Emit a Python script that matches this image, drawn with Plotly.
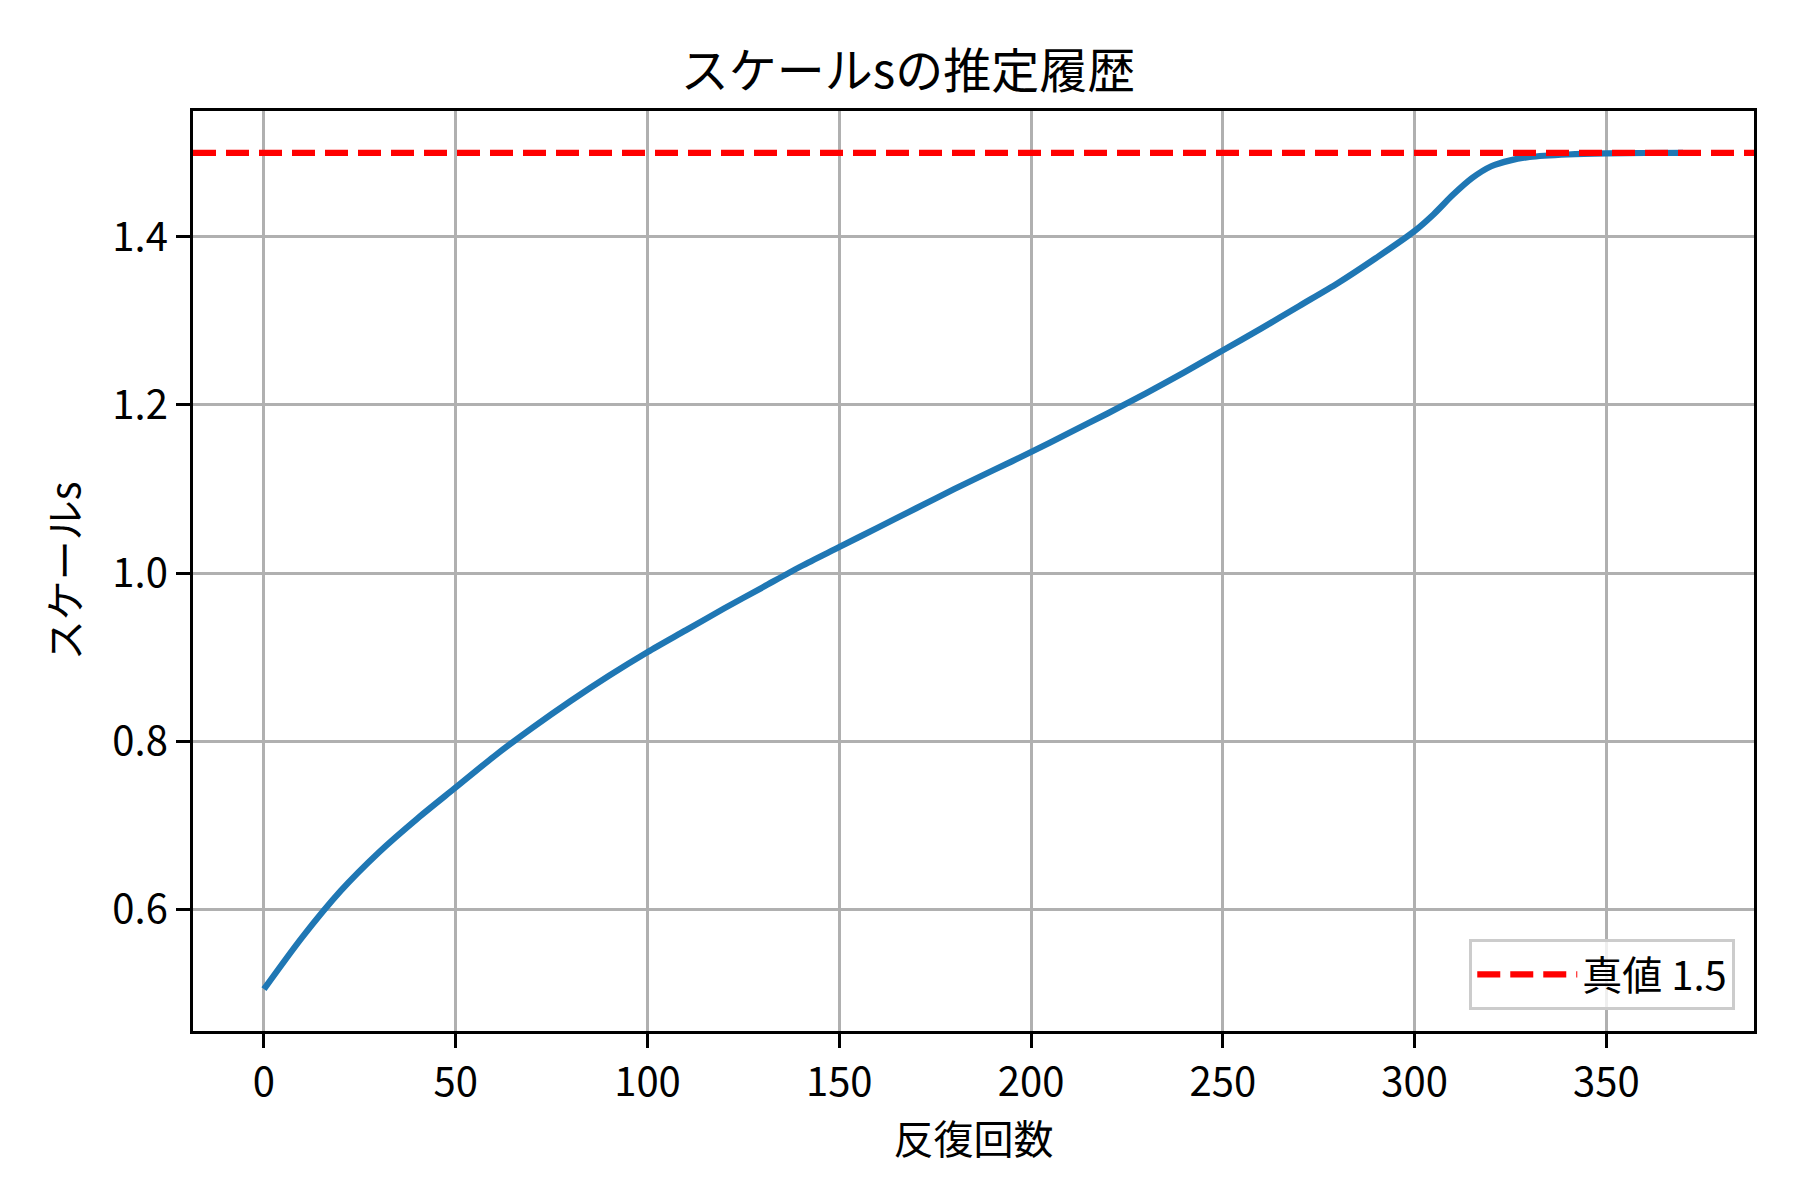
import plotly.graph_objects as go

# iteration index and estimated scale s
iters = [0, 10, 20, 30, 40, 50, 60, 70, 80, 90, 100, 110, 120, 130, 140, 150, 160, 170,
         180, 190, 200, 210, 220, 230, 240, 250, 260, 270, 280, 290, 300, 305, 310, 315,
         320, 325, 330, 340, 350, 360, 370]
s_vals = [0.505, 0.567, 0.622, 0.668, 0.708, 0.745, 0.782, 0.816, 0.848, 0.878, 0.906,
          0.932, 0.958, 0.983, 1.008, 1.031, 1.054, 1.077, 1.100, 1.122, 1.144, 1.167,
          1.190, 1.214, 1.239, 1.265, 1.291, 1.318, 1.345, 1.375, 1.407, 1.427, 1.450,
          1.470, 1.484, 1.491, 1.495, 1.498, 1.4993, 1.4998, 1.5]
true_value = 1.5
true_label = "真値 1.5"

x_ticks = [0, 50, 100, 150, 200, 250, 300, 350]
y_ticks = [0.6, 0.8, 1.0, 1.2, 1.4]
y_ticktext = ["0.6", "0.8", "1.0", "1.2", "1.4"]

title_text = "スケールsの推定履歴"
x_title = "反復回数"
y_title = "スケールs"

FONT = "Noto Sans CJK JP"

fig = go.Figure()
fig.add_trace(go.Scatter(
    x=iters, y=s_vals, mode="lines",
    line=dict(color="#1f77b4", width=6.2, shape="spline", smoothing=0.8),
    showlegend=False,
))

fig.add_shape(
    type="line", xref="paper", x0=0, x1=1, yref="y", y0=true_value, y1=true_value,
    line=dict(color="red", width=6.2, dash="23px,10px"),
    showlegend=True, name=true_label, layer="above",
)

n_last = iters[-1]
pad = 0.05 * n_last
y_min, y_max = min(s_vals), max(max(s_vals), true_value)
ypad = 0.05 * (y_max - y_min)

fig.update_layout(
    width=1800, height=1200,
    margin=dict(l=185, r=54, t=103, b=177),
    paper_bgcolor="white", plot_bgcolor="white",
    font=dict(family=FONT, size=40, color="black"),
    title=dict(text=title_text, x=0.5, xanchor="center", y=1 - 63 / 1200, yanchor="middle",
               font=dict(family=FONT, size=48, color="black")),
    showlegend=True,
    legend=dict(
        x=0.988, xanchor="right", y=0.023, yanchor="bottom",
        bgcolor="rgba(255,255,255,0.8)", bordercolor="#cccccc", borderwidth=3,
        itemwidth=100,
        font=dict(family=FONT, size=40, color="black"),
    ),
)

fig.update_xaxes(
    range=[-pad, n_last + pad], tickvals=x_ticks,
    showgrid=True, gridcolor="#b0b0b0", gridwidth=3.3,
    showline=True, linecolor="black", linewidth=3.3, mirror=True,
    ticks="outside", ticklen=14, tickwidth=3.3, tickcolor="black",
    zeroline=False,
    title=dict(text=x_title, standoff=7, font=dict(family=FONT, size=40)),
    tickfont=dict(family=FONT, size=40),
)
fig.update_yaxes(
    range=[y_min - ypad, y_max + ypad], tickvals=y_ticks, ticktext=y_ticktext,
    showgrid=True, gridcolor="#b0b0b0", gridwidth=3.3,
    showline=True, linecolor="black", linewidth=3.3, mirror=True,
    ticks="outside", ticklen=14, tickwidth=3.3, tickcolor="black",
    zeroline=False,
    title=dict(text=y_title, standoff=20, font=dict(family=FONT, size=40)),
    tickfont=dict(family=FONT, size=40),
)

fig.write_html("out.html")
